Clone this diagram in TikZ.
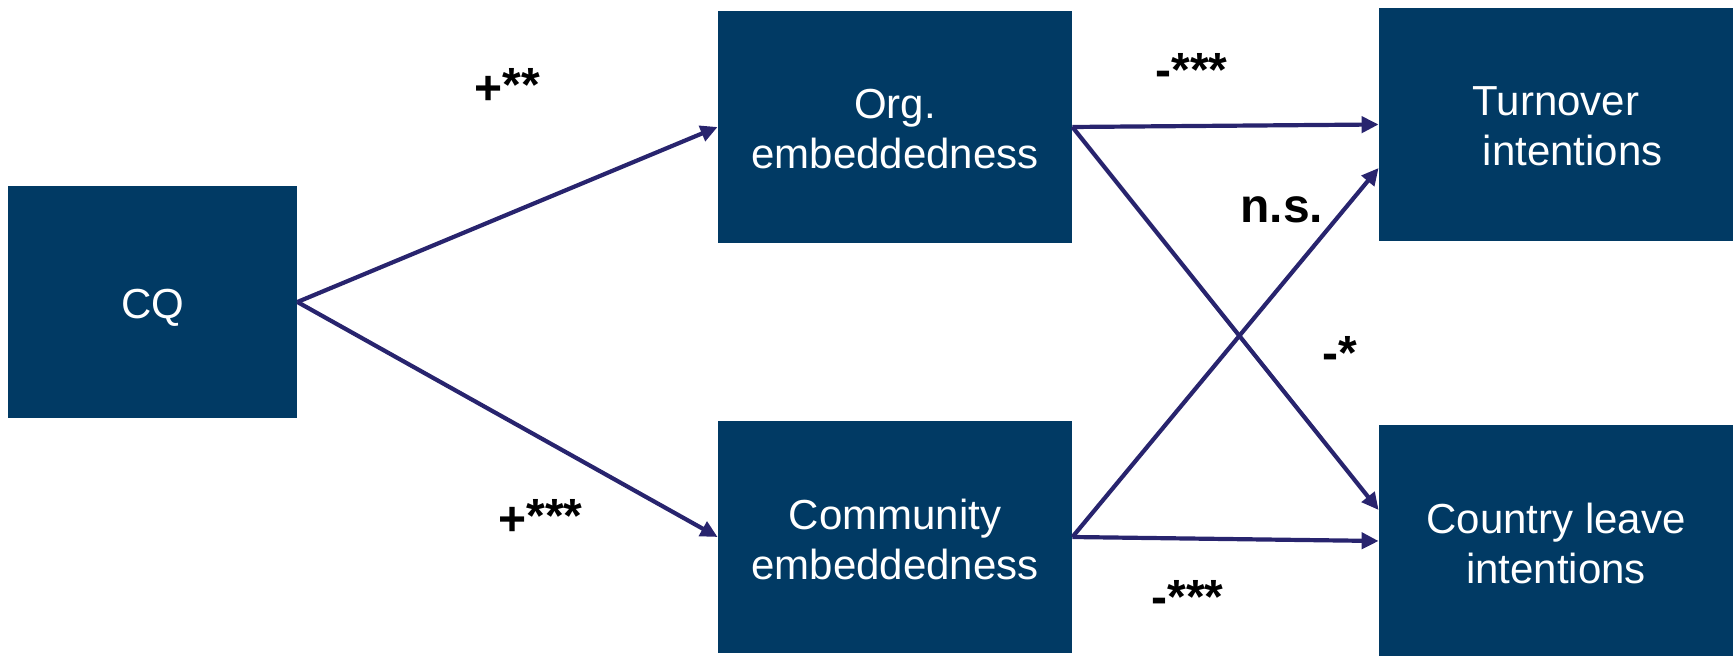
\documentclass[tikz,border=0pt]{standalone}
\usepackage{fontspec}
\setmainfont{Liberation Sans}
\usetikzlibrary{arrows.meta}
\definecolor{boxblue}{RGB}{1,58,100}
\definecolor{arrowblue}{RGB}{40,36,110}
\newcommand{\dn}[2]{\raisebox{-#1}[\height][\depth]{#2}}
\begin{document}
\begin{tikzpicture}[x=0.5pt,y=-0.5pt,
  vbox/.style={rectangle, fill=boxblue, text=white, inner sep=0pt,
    font=\fontsize{21pt}{25pt}\selectfont, align=center},
  conn/.style={draw=arrowblue, line width=2.1pt, -{Triangle[length=8.5pt,width=8pt]}},
  lbl/.style={font=\fontsize{24pt}{28pt}\selectfont\bfseries, anchor=base west, inner sep=0pt}]
\useasboundingbox (0,0) rectangle (1733,656);
\node[vbox, minimum width=144.5pt, minimum height=116pt] (cq) at (152.5,302) {\dn{3pt}{CQ}};
\node[vbox, minimum width=177pt, minimum height=116pt] (org) at (895,127) {\dn{1pt}{Org.}\\\dn{1pt}{embeddedness}};
\node[vbox, minimum width=177pt, minimum height=116pt] (com) at (895,537) {\dn{1pt}{Community}\\\dn{1pt}{embeddedness}};
\node[vbox, minimum width=177pt, minimum height=116.5pt] (turn) at (1556,124.5) {\dn{1pt}{Turnover}\\\hspace*{0.8em}\dn{1pt}{intentions}};
\node[vbox, minimum width=177pt, minimum height=116pt] (ctry) at (1556,541) {\dn{1pt}{Country leave}\\\dn{1pt}{intentions}};
\draw[conn] (cq.east) -- (org.west);
\draw[conn] (cq.east) -- (com.west);
\draw[conn] (org.east) -- (turn.west);
\draw[conn] (org.east) -- ([yshift=15.5pt]ctry.west);
\draw[conn] (com.east) -- ([yshift=-21.75pt]turn.west);
\draw[conn] (com.east) -- (ctry.west);
\node[lbl] (l1) at (474,105) {+\raisebox{1.5pt}{**}};
\node[lbl] (l2) at (498,536) {+\raisebox{1.5pt}{***}};
\node[lbl] (l3) at (1155,87) {-***};
\node[lbl] (l4) at (1240,223) {n.s.};
\node[lbl] (l5) at (1322,370) {-*};
\node[lbl] (l6) at (1151,614) {-***};
\end{tikzpicture}
\end{document}
